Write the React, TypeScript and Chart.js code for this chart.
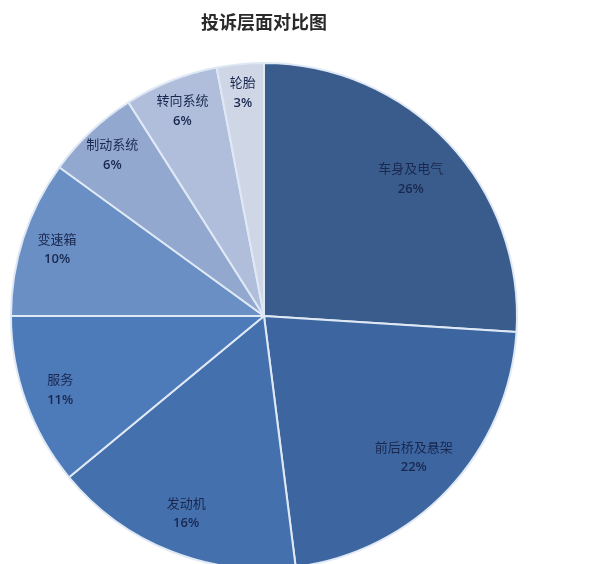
import { useEffect, useRef } from 'react';
import { Chart, registerables, Plugin } from 'chart.js';

Chart.register(...registerables);

const title = '投诉层面对比图';
const categories = ['车身及电气', '前后桥及悬架', '发动机', '服务', '变速箱', '制动系统', '转向系统', '轮胎'];
const shares = [26, 22, 16, 11, 10, 6, 6, 3];
const sliceColors = [
  '#3a5c8c',
  '#3d65a0',
  '#4470ad',
  '#4d7ab8',
  '#6a8fc4',
  '#92a8cf',
  '#b0bedb',
  '#cfd6e6',
];

// title text drawn at the top of the canvas
const titlePlugin: Plugin<'pie'> = {
  id: 'topTitle',
  afterDraw(chart) {
    const ctx = chart.ctx;
    ctx.save();
    ctx.font = 'bold 18px "Noto Sans CJK SC", sans-serif';
    ctx.fillStyle = '#2a2a2a';
    ctx.textAlign = 'center';
    ctx.textBaseline = 'middle';
    ctx.fillText(title, 264, 22);
    ctx.restore();
  },
};

// name + percentage inside each slice; bigger slices sit a bit closer to the centre
const sliceLabels: Plugin<'pie'> = {
  id: 'sliceLabels',
  afterDatasetsDraw(chart) {
    const ctx = chart.ctx;
    const meta = chart.getDatasetMeta(0);
    ctx.save();
    ctx.textAlign = 'center';
    ctx.textBaseline = 'middle';
    ctx.fillStyle = '#1a2850';
    meta.data.forEach((el: any, i) => {
      const mid = (el.startAngle + el.endAngle) / 2;
      const frac = (el.endAngle - el.startAngle) / (Math.PI * 2);
      const r = el.outerRadius * (0.9 - 0.4 * frac);
      const x = el.x + Math.cos(mid) * r;
      const y = el.y + Math.sin(mid) * r;
      ctx.font = '13px "Noto Sans CJK SC", sans-serif';
      ctx.fillText(categories[i], x, y - 10);
      ctx.font = '600 13px "Open Sans", sans-serif';
      ctx.fillText(shares[i] + '%', x, y + 11);
    });
    ctx.restore();
  },
};

export default function App() {
  const canvasRef = useRef<HTMLCanvasElement>(null);
  const chartRef = useRef<Chart<'pie'> | null>(null);

  useEffect(() => {
    if (!canvasRef.current) return;
    if (chartRef.current) chartRef.current.destroy();

    chartRef.current = new Chart(canvasRef.current, {
      type: 'pie',
      data: {
        labels: categories,
        datasets: [
          {
            data: shares,
            backgroundColor: sliceColors,
            borderColor: '#dfe9f5',
            borderWidth: 2,
            radius: 253,
          },
        ],
      },
      options: {
        responsive: false,
        maintainAspectRatio: false,
        animation: false,
        layout: { padding: { left: 10, right: 82, top: 0, bottom: 8 } },
        plugins: {
          legend: { display: false },
          tooltip: { enabled: false },
          title: { display: false },
        },
      },
      plugins: [titlePlugin, sliceLabels],
    });

    return () => {
      if (chartRef.current) {
        chartRef.current.destroy();
        chartRef.current = null;
      }
    };
  }, []);

  return (
    <div
      style={{
        position: 'absolute',
        left: 0,
        top: 0,
        width: '600px',
        height: '564px',
        overflow: 'hidden',
        background: '#ffffff',
      }}
    >
      <canvas ref={canvasRef} width={600} height={640} style={{ width: '600px', height: '640px' }} />
    </div>
  );
}
